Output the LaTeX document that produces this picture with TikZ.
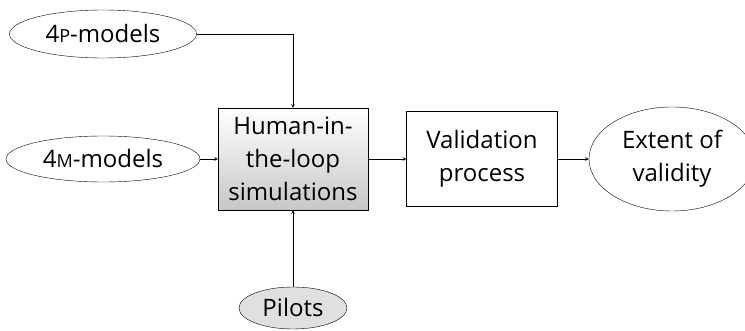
\documentclass[tikz,border=0pt]{standalone}
\usepackage{fontspec}
\setmainfont{Open Sans}
\usepackage{tikz}
\usetikzlibrary{shapes,arrows}
\tikzstyle{arrow} = [semithick,->,>=stealth]
\newcommand{\smallcapletter}[1]{{\fontsize{18}{18}\selectfont #1}}

\begin{document}
\begin{tikzpicture}[x=1pt,y=-1pt,font=\fontsize{24}{33}\selectfont]
                        \useasboundingbox (0,0) rectangle (745,331);
                        \clip (0,0) rectangle (745,331);
                        \node[draw,ellipse,minimum width=187pt,minimum height=48pt,inner sep=0pt]
                            (pmodels) at (103,34) {4\smallcapletter{P}-models};
                        \node[draw,ellipse,minimum width=194pt,minimum height=46pt,inner sep=0pt]
                            (mmodels) at (103,159) {4\smallcapletter{M}-models};
                        \node[draw,rectangle,align=center,minimum width=150pt,minimum height=102pt,
                            inner sep=0pt,top color=white,bottom color=black!22]
                            (hitl) at (293,159) {Human-in-\\the-loop\\simulations};
                        \node[draw,rectangle,align=center,minimum width=151pt,minimum height=95pt,
                            inner sep=0pt]
                            (valid) at (482,159) {Validation\\process};
                        \node[draw,ellipse,align=center,minimum width=166pt,minimum height=104pt,
                            inner sep=0pt]
                            (extent) at (672,159) {Extent of\\validity};
                        \node[draw,ellipse,fill=black!12,minimum width=108pt,minimum height=42pt,
                            inner sep=0pt]
                            (pilots) at (293,308) {Pilots};
                        \draw[arrow] (pmodels.east) -| (hitl.north);
                        \draw[arrow] (mmodels.east) -- (hitl.west);
                        \draw[arrow] (pilots.north) -- (hitl.south);
                        \draw[arrow] (hitl.east) -- (valid.west);
                        \draw[arrow] (valid.east) -- (extent.west);
                    \end{tikzpicture}
\end{document}
